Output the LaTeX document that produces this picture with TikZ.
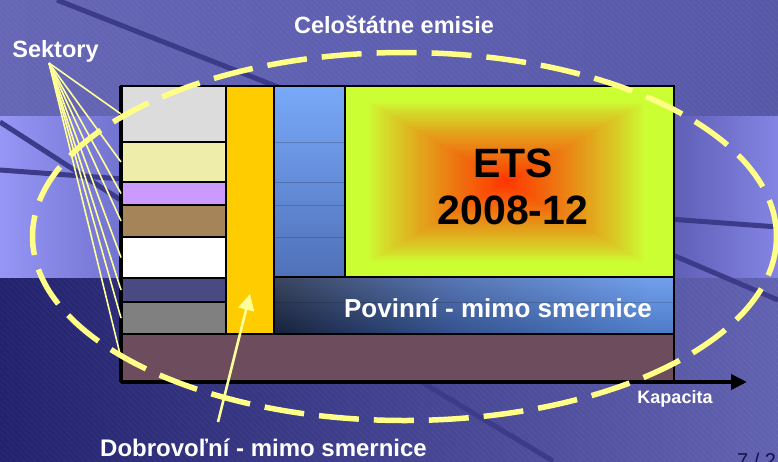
\documentclass[tikz,border=0pt]{standalone}
\usepackage{fontspec}
\setmainfont{Liberation Sans}
\usetikzlibrary{arrows.meta,patterns.meta,calc}
\definecolor{bgTopL}{HTML}{6666B6}
\definecolor{bgTopR}{HTML}{5858A8}
\definecolor{bandA}{HTML}{9696F6}
\definecolor{bandB}{HTML}{7272D0}
\definecolor{bandC}{HTML}{6060B8}
\definecolor{bandD}{HTML}{8484E4}
\definecolor{botL}{HTML}{22226E}
\definecolor{botR}{HTML}{6262B2}
\definecolor{darkline}{HTML}{3B3B8A}
\definecolor{yel}{HTML}{FFFF99}
\definecolor{ellcol}{HTML}{FFFF88}
\definecolor{sgray}{HTML}{DCDCDC}
\definecolor{spale}{HTML}{EEEEAA}
\definecolor{sviolet}{HTML}{CC99FF}
\definecolor{sbrown}{HTML}{A5845A}
\definecolor{sdblue}{HTML}{4A4A82}
\definecolor{sgray2}{HTML}{808080}
\definecolor{smaroon}{HTML}{6D4D5D}
\definecolor{sorange}{HTML}{FFCC00}
\definecolor{colTop}{HTML}{79A9F9}
\definecolor{colBot}{HTML}{4F71B8}
\definecolor{povA}{HTML}{1A2745}
\definecolor{povB}{HTML}{3C5FA5}
\definecolor{povC}{HTML}{5B90E8}
\definecolor{etsR}{HTML}{FF3300}
\definecolor{etsG}{HTML}{CCFF33}
\definecolor{pgnum}{HTML}{12124A}
\pgfdeclarehorizontalshading{bandsh}{100bp}{color(0bp)=(bandA); color(25bp)=(bandA); color(32.8bp)=(bandB); color(68.4bp)=(bandC); color(75bp)=(bandD); color(100bp)=(bandD)}
\pgfdeclarehorizontalshading{povsh}{100bp}{color(0bp)=(povA); color(25bp)=(povA); color(47bp)=(povB); color(72bp)=(povC); color(100bp)=(povC)}
\begin{document}
\begin{tikzpicture}[x=1pt,y=-1pt,
  hatch/.style={pattern={Lines[angle=-45,distance=4pt,line width=0.45pt]}, pattern color=white, fill opacity=0.08},
  bgline/.style={draw=darkline, line width=5pt},
  row/.style={draw=black, line width=1.5pt, inner sep=0pt, outer sep=0pt, anchor=north west},
  lbl/.style={text=white, font=\bfseries, inner sep=0pt},
  sekline/.style={draw=yel, line width=1.6pt},
  ellstyle/.style={draw=ellcol, line width=5.5pt, dash pattern=on 40pt off 15pt},
  yarrow/.style={draw=yel, line width=2.6pt, -{Triangle[length=16pt,width=16pt]}},
  axis/.style={draw=black, line width=4pt, -{Triangle[length=16pt,width=15pt]}}]
\useasboundingbox (0,0) rectangle (778,461);
\clip (0,0) rectangle (778,461);
% background
\shade[left color=bgTopL, right color=bgTopR] (0,0) rectangle (778,116);
\shade[left color=botL, right color=botR] (0,277) rectangle (778,461);
\fill[hatch] (0,0) rectangle (778,116);
\fill[hatch] (0,277) rectangle (778,461);
\shade[shading=bandsh] (0,116) rectangle (778,277);
\draw[bgline] (57,0) -- (420,143);
\draw[bgline] (0,122) -- (130,206);
\draw[bgline] (0,170) -- (778,227);
\draw[bgline] (600,224) -- (778,300);
\draw[bgline] (300,309) -- (553,461);
% chart
\node[row, fill=smaroon, minimum width=553pt, minimum height=48pt] (mar) at (121,334) {};
\node[row, fill=sgray, minimum width=105pt, minimum height=56pt] (r1) at (121,86) {};
\node[row, fill=spale, minimum width=105pt, minimum height=40pt] (r2) at (121,142) {};
\node[row, fill=sviolet, minimum width=105pt, minimum height=23pt] (r3) at (121,182) {};
\node[row, fill=sbrown, minimum width=105pt, minimum height=32pt] (r4) at (121,205) {};
\node[row, fill=white, minimum width=105pt, minimum height=41pt] (r5) at (121,237) {};
\node[row, fill=sdblue, minimum width=105pt, minimum height=24pt] (r6) at (121,278) {};
\node[row, fill=sgray2, minimum width=105pt, minimum height=32pt] (r7) at (121,302) {};
\node[row, fill=sorange, minimum width=48pt, minimum height=248pt] (or) at (226,86) {};
\node[row, top color=colTop, bottom color=colBot, minimum width=71pt, minimum height=191pt] (col) at (274,86) {};
\foreach \yy in {142,182,205,237} \draw[black, opacity=0.18, line width=1pt] (275,\yy) -- (344,\yy);
% ETS box with rectangular gradient
\node[row, fill=etsG, minimum width=329pt, minimum height=191pt] (grn) at (345,86) {};
\begin{scope}
  \clip (346,87) rectangle (673,276);
  \foreach \i in {42,...,1}{
    \pgfmathsetmacro\tt{\i/50}
    \pgfmathsetmacro\pp{100*pow(1-\tt/0.85,0.85)}
    \fill[etsR!\pp!etsG] ({506-164.5*\tt},{182-95.5*\tt}) rectangle ({506+164.5*\tt},{182+95.5*\tt});
  }
\end{scope}
\draw[black, line width=1.5pt] (grn.north west) rectangle (grn.south east);
\node[row, shading=povsh, minimum width=400pt, minimum height=57pt] (pov) at (274,277) {};
\shade[top color=white, bottom color=black, opacity=0.14] (275,278) rectangle (673,333);
\draw[black, opacity=0.15, line width=1pt] (275,302) -- (673,302);
\draw[black, line width=1.5pt] (pov.north west) rectangle (pov.south east);
% outline and axis
\draw[black, line width=2pt] (r1.north west) -- (grn.north east) -- (mar.south east);
\draw[black, line width=3.5pt] (r1.north west) -- (mar.south west);
\coordinate (axend) at (747,382);
\draw[axis] (mar.south west) -- (axend);
% texts
\node[lbl, font=\fontsize{23.5}{28}\selectfont\bfseries, anchor=base] (cel) at (394,33) {Celoštátne emisie};
\node[lbl, font=\fontsize{23.5}{28}\selectfont\bfseries, anchor=base] (sek) at (55.5,57) {Sektory};
\node[inner sep=0pt, text=black, font=\fontsize{41}{47}\selectfont\bfseries, anchor=base] (ets1) at (513,177) {ETS};
\node[inner sep=0pt, text=black, font=\fontsize{41}{47}\selectfont\bfseries, anchor=base] (ets2) at (513,224) {2008-12};
\node[lbl, font=\fontsize{26}{30}\selectfont\bfseries, anchor=base] (povt) at (498,317) {Povinní - mimo smernice};
\node[lbl, font=\fontsize{24}{28}\selectfont\bfseries, anchor=base west] (dob) at (100,456) {Dobrovoľní - mimo smernice};
\node[lbl, font=\fontsize{18}{21}\selectfont\bfseries, anchor=base] (kap) at (675,403) {Kapacita};
\node[inner sep=0pt, text=pgnum, font=\fontsize{20}{24}\selectfont, anchor=north west] (pg) at (737,453) {7 / 2};
% connectors
\coordinate (sekfoot) at (49,63);
\foreach \r in {r1,r2,r3,r4,r5,r6,r7,mar} \draw[sekline] (sekfoot) -- (\r.west);
\draw[ellstyle] (404.5,236.5) ellipse [x radius=372, y radius=184];
\coordinate (dobtail) at (218,422);
\draw[yarrow] (dobtail) -- ($(or.south)+(0,-40)$);
\end{tikzpicture}
\end{document}
